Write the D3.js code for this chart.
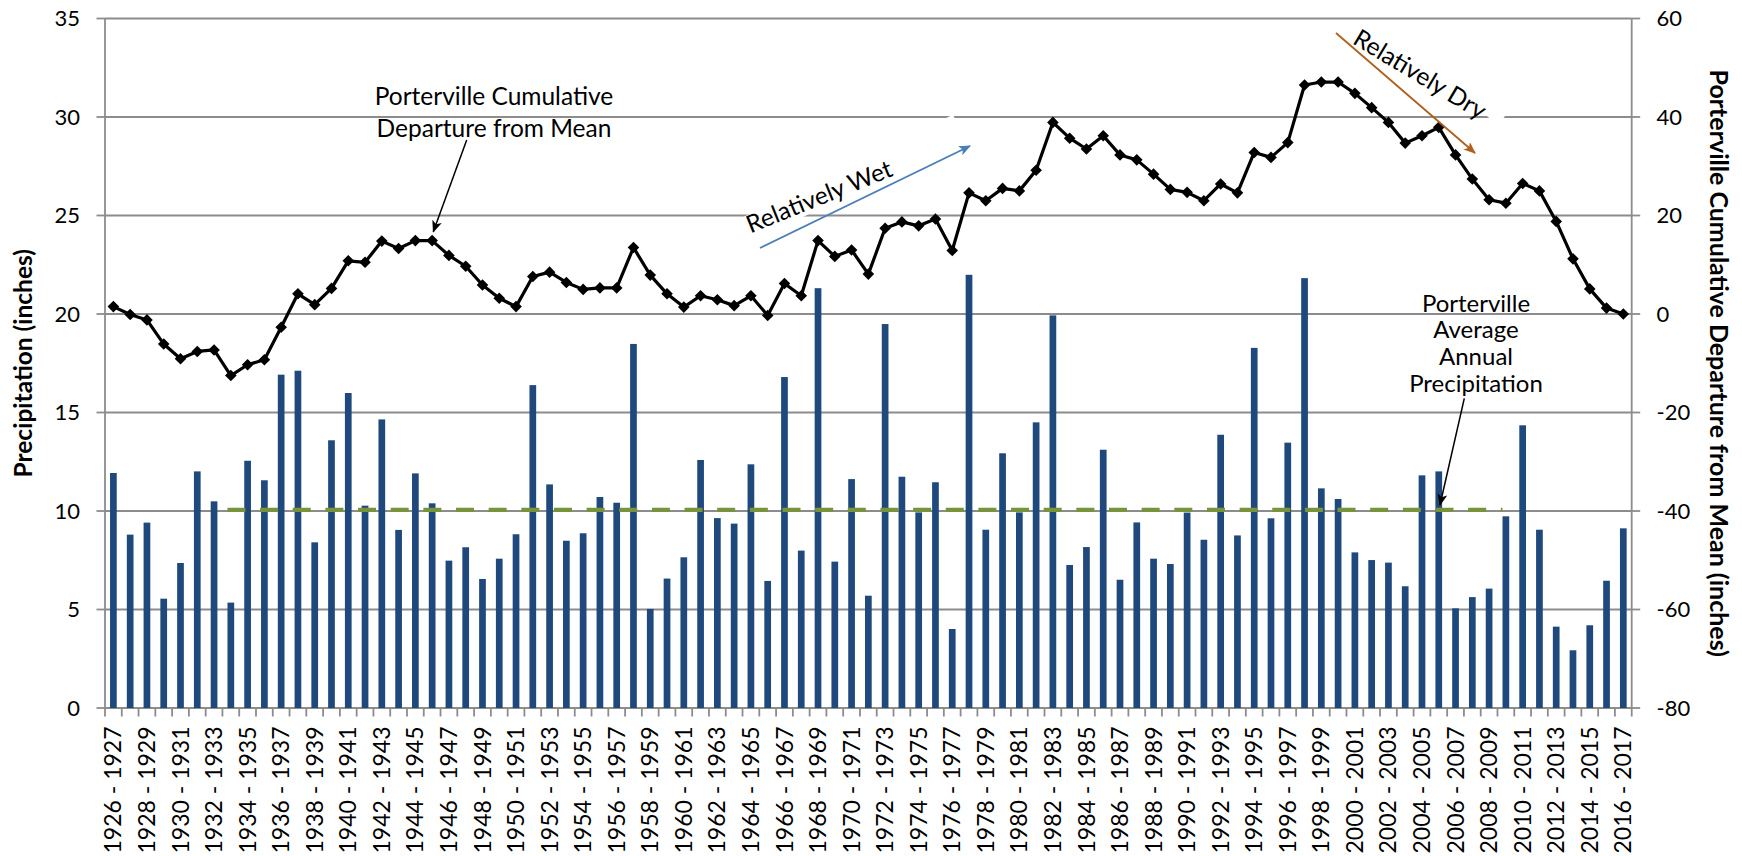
<!DOCTYPE html>
<html>
<head>
<meta charset="utf-8">
<script src="https://cdn.jsdelivr.net/npm/d3@7"></script>
<style>
  html, body { margin: 0; padding: 0; background: #fff; }
  svg text { font-family: Lato, "Open Sans", sans-serif; fill: #000; }
</style>
</head>
<body>
<svg id="chart" width="1742" height="856"></svg>
<script>
// Water years, one bar per season
const seasons = d3.range(1926, 2017).map(y => `${y} - ${y + 1}`);

// Annual precipitation at Porterville (inches)
const precipitation = [
  11.93, 8.80, 9.41, 5.55, 7.36, 12.01, 10.49, 5.35, 12.55, 11.56,
  16.92, 17.12, 8.41, 13.59, 15.99, 10.27, 14.65, 9.04, 11.91, 10.39,
  7.48, 8.16, 6.55, 7.58, 8.82, 16.39, 11.35, 8.49, 8.87, 10.71,
  10.42, 18.48, 5.03, 6.57, 7.65, 12.59, 9.64, 9.36, 12.37, 6.45,
  16.80, 7.99, 21.31, 7.43, 11.62, 5.70, 19.49, 11.74, 9.93, 11.46,
  4.01, 21.99, 9.05, 12.93, 9.93, 14.50, 19.93, 7.26, 8.17, 13.11,
  6.51, 9.42, 7.58, 7.31, 9.92, 8.54, 13.87, 8.76, 18.28, 9.63,
  13.47, 21.82, 11.15, 10.61, 7.90, 7.51, 7.38, 6.18, 11.81, 12.01,
  5.06, 5.63, 6.06, 9.73, 14.35, 9.05, 4.13, 2.93, 4.20, 6.46,
  9.12
];

// Cumulative departure from mean (inches)
const cumulativeDeparture = [
  1.5, -0.1, -1.2, -6.1, -9.1, -7.6, -7.3, -12.5, -10.3, -9.3,
  -2.7, 4.1, 1.9, 5.2, 10.8, 10.5, 14.8, 13.3, 14.9, 14.9,
  11.9, 9.7, 5.9, 3.2, 1.5, 7.6, 8.5, 6.4, 5.0, 5.3,
  5.3, 13.5, 7.9, 4.1, 1.4, 3.7, 2.9, 1.7, 3.7, -0.3,
  6.2, 3.7, 14.9, 11.7, 13.0, 8.1, 17.4, 18.7, 17.9, 19.3,
  12.9, 24.6, 23.0, 25.5, 25.0, 29.2, 38.9, 35.7, 33.5, 36.2,
  32.3, 31.3, 28.4, 25.3, 24.7, 23.0, 26.4, 24.6, 32.8, 31.8,
  34.8, 46.5, 47.1, 47.1, 44.8, 41.9, 38.9, 34.7, 36.2, 37.9,
  32.3, 27.4, 23.2, 22.5, 26.5, 25.0, 18.8, 11.2, 5.1, 1.2,
  0.0
];

// Average annual precipitation and the span it is drawn over
const averagePrecip = 10.06;
const averageSpan = ["1933 - 1934", "2009 - 2010"];

// Axis ticks
const leftTicks = [0, 5, 10, 15, 20, 25, 30, 35];
const rightTicks = [-80, -60, -40, -20, 0, 20, 40, 60];

const svg = d3.select("#chart");
const M = { left: 105, right: 1631.7, top: 18.5, bottom: 708 };
const GRID = "#8c8c8c";
const NOTE_SIZE = 24.5;

const x = d3.scaleBand().domain(seasons).range([M.left, M.right])
  .paddingInner(0.6).paddingOuter(0.3);
const xc = s => x(s) + x.bandwidth() / 2;
const step = x.step();
const yL = d3.scaleLinear().domain([0, 35]).range([M.bottom, M.top]);
const yR = d3.scaleLinear().domain([-80, 60]).range([M.bottom, M.top]);

// Gridlines
svg.append("g").selectAll("line").data(leftTicks).join("line")
  .attr("x1", M.left).attr("x2", M.right)
  .attr("y1", d => yL(d)).attr("y2", d => yL(d))
  .attr("stroke", GRID).attr("stroke-width", 1.8);

// White text-box backgrounds of the trend labels (they hide gridline pieces)
const defs = svg.append("defs");
svg.append("rect").attr("x", -240).attr("y", 0).attr("width", 240).attr("height", 26)
  .attr("fill", "#fff").attr("transform", "translate(953,114.8) rotate(-26)");
svg.append("rect").attr("x", -125).attr("y", -26).attr("width", 125).attr("height", 26)
  .attr("fill", "#fff").attr("transform", "translate(1497.6,125) rotate(40)");

// Axis lines
svg.append("line").attr("x1", M.left).attr("x2", M.left).attr("y1", M.top).attr("y2", M.bottom)
  .attr("stroke", GRID).attr("stroke-width", 1.8);
svg.append("line").attr("x1", M.right).attr("x2", M.right).attr("y1", M.top).attr("y2", M.bottom)
  .attr("stroke", GRID).attr("stroke-width", 1.8);

// Tick marks
svg.append("g").selectAll("line").data(leftTicks).join("line")
  .attr("x1", M.left - 8.5).attr("x2", M.left)
  .attr("y1", d => yL(d)).attr("y2", d => yL(d))
  .attr("stroke", GRID).attr("stroke-width", 1.8);
svg.append("g").selectAll("line").data(rightTicks).join("line")
  .attr("x1", M.right).attr("x2", M.right + 8.5)
  .attr("y1", d => yR(d)).attr("y2", d => yR(d))
  .attr("stroke", GRID).attr("stroke-width", 1.8);
svg.append("g").selectAll("line").data(d3.range(seasons.length + 1)).join("line")
  .attr("x1", i => M.left + i * step).attr("x2", i => M.left + i * step)
  .attr("y1", M.bottom).attr("y2", M.bottom + 8.5)
  .attr("stroke", GRID).attr("stroke-width", 1.8);

// Bars
svg.append("g").selectAll("rect").data(precipitation).join("rect")
  .attr("x", (d, i) => x(seasons[i]))
  .attr("width", x.bandwidth())
  .attr("y", d => yL(d))
  .attr("height", d => yL(0) - yL(d))
  .attr("fill", "#1f497d");

// Average precipitation (dashed)
svg.append("line")
  .attr("x1", x(averageSpan[0]) - step * 0.18 + 3)
  .attr("x2", x(averageSpan[1]) - step * 0.18 + 3)
  .attr("y1", yL(averagePrecip)).attr("y2", yL(averagePrecip))
  .attr("stroke", "#77933c").attr("stroke-width", 4.2)
  .attr("stroke-dasharray", "18,14.65");

// Cumulative departure line with diamond markers
const pts = cumulativeDeparture.map((d, i) => [xc(seasons[i]), yR(d)]);
svg.append("path").attr("d", d3.line()(pts))
  .attr("fill", "none").attr("stroke", "#000").attr("stroke-width", 3.2)
  .attr("stroke-linejoin", "round");
svg.append("g").selectAll("path").data(pts).join("path")
  .attr("d", "M0,-5.8L5.8,0L0,5.8L-5.8,0Z")
  .attr("transform", d => `translate(${d[0]},${d[1]})`)
  .attr("fill", "#000");

// Axis labels
svg.append("g").selectAll("text").data(leftTicks).join("text")
  .attr("x", 80).attr("y", d => yL(d)).attr("dy", "0.35em")
  .attr("text-anchor", "end").attr("font-size", 22).text(d => d);
svg.append("g").selectAll("text").data(rightTicks).join("text")
  .attr("x", 1656.5).attr("y", d => yR(d)).attr("dy", "0.35em")
  .attr("text-anchor", "start").attr("font-size", 22).text(d => d);
svg.append("g").selectAll("text").data(seasons.filter((s, i) => i % 2 === 0)).join("text")
  .attr("transform", d => `translate(${xc(d)},726.5) rotate(-90)`)
  .attr("dy", "0.35em").attr("text-anchor", "end").attr("font-size", 23)
  .text(d => d);

// Axis titles
svg.append("text").attr("transform", `translate(23.5,${(M.top + M.bottom) / 2}) rotate(-90)`)
  .attr("dy", "0.35em").attr("text-anchor", "middle")
  .attr("font-size", 24.5).attr("font-weight", "bold").text("Precipitation (inches)");
svg.append("text").attr("transform", `translate(1719,${(M.top + M.bottom) / 2}) rotate(90)`)
  .attr("dy", "0.35em").attr("text-anchor", "middle")
  .attr("font-size", 25).attr("font-weight", "bold")
  .text("Porterville Cumulative Departure from Mean (inches)");

// Arrow heads
function marker(id, color) {
  defs.append("marker").attr("id", id).attr("viewBox", "0 0 12 10")
    .attr("refX", 11).attr("refY", 5).attr("markerWidth", 12).attr("markerHeight", 10)
    .attr("markerUnits", "userSpaceOnUse").attr("orient", "auto")
    .append("path").attr("d", "M0,0L12,5L0,10L3,5Z").attr("fill", color);
}
marker("ah-black", "#000");
marker("ah-blue", "#4a7ebb");
marker("ah-brown", "#b0601a");

function arrow(x1, y1, x2, y2, color, id, w) {
  svg.append("line").attr("x1", x1).attr("y1", y1).attr("x2", x2).attr("y2", y2)
    .attr("stroke", color).attr("stroke-width", w).attr("marker-end", `url(#${id})`);
}

// Callout: cumulative departure
const c1 = svg.append("text").attr("text-anchor", "middle").attr("font-size", NOTE_SIZE);
c1.append("tspan").attr("x", 494).attr("y", 105).text("Porterville Cumulative");
c1.append("tspan").attr("x", 494).attr("y", 136.7).text("Departure from Mean");
arrow(466.7, 140, 433.3, 231.7, "#000", "ah-black", 1.5);

// Callout: average annual precipitation
const c2 = svg.append("text").attr("text-anchor", "middle").attr("font-size", 24);
["Porterville", "Average", "Annual", "Precipitation"].forEach((t, i) =>
  c2.append("tspan").attr("x", 1476).attr("y", 311.7 + i * 26.7).text(t));
arrow(1464.3, 398.3, 1440, 505, "#000", "ah-black", 1.5);

// Wet / dry trends
arrow(760, 248, 970, 146, "#4a7ebb", "ah-blue", 1.8);
svg.append("text").attr("transform", "translate(750.5,233.5) rotate(-22)")
  .attr("font-size", NOTE_SIZE).text("Relatively Wet");
arrow(1336, 33, 1475, 153, "#b0601a", "ah-brown", 1.8);
svg.append("text").attr("transform", "translate(1351.5,43) rotate(31)")
  .attr("font-size", NOTE_SIZE).text("Relatively Dry");
</script>
</body>
</html>
